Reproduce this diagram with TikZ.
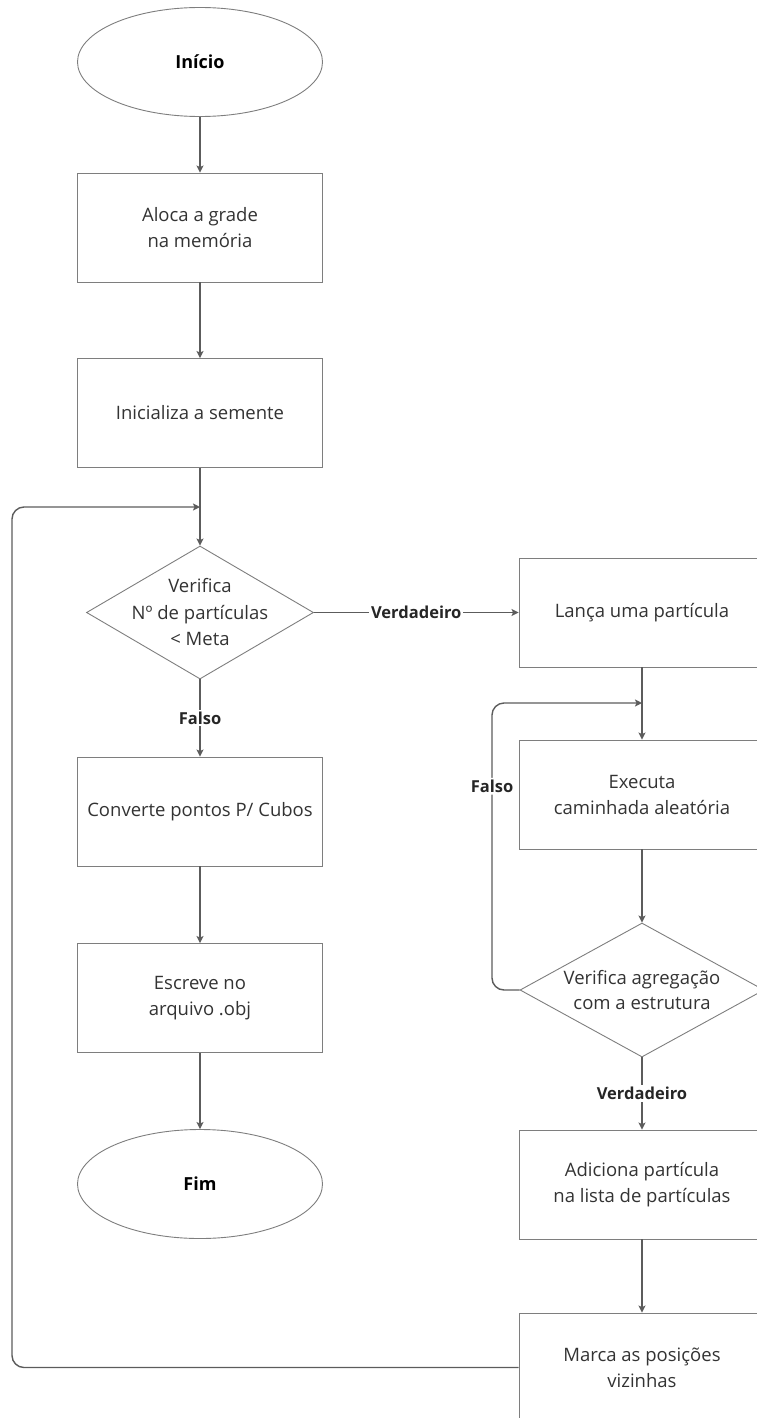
\documentclass[tikz,border=0pt]{standalone}
\usepackage{fontspec}
\setmainfont{Open Sans}
\usetikzlibrary{shapes.geometric,arrows.meta}
\definecolor{linec}{HTML}{5C5C5C}
\definecolor{shapec}{HTML}{7E7E7E}
\definecolor{txtc}{HTML}{333333}
\tikzset{
  procbox/.style={draw=shapec, line width=0.9pt, rectangle, minimum width=245pt, minimum height=109pt, inner sep=0pt, align=center, font=\fontsize{18.5}{26}\selectfont, text=txtc},
  termbox/.style={draw=shapec, line width=0.9pt, ellipse, minimum width=245pt, minimum height=109pt, inner sep=0pt, align=center, font=\fontsize{18}{26}\selectfont\bfseries, text=black},
  decbox/.style={draw=shapec, line width=0.9pt, diamond, inner sep=0pt},
  dectxt/.style={align=center, font=\fontsize{18.5}{26.5}\selectfont, text=txtc, inner sep=0pt},
  conn/.style={draw=linec, line width=1.4pt, -{Stealth[length=7pt,width=7pt,inset=1.5pt]}},
  lbl/.style={fill=white, font=\fontsize{16.5}{18}\selectfont\bfseries, text=black!85, inner sep=2pt},
}
\begin{document}
\begin{tikzpicture}[x=1pt,y=-1pt]
\useasboundingbox (0,0) rectangle (757,1418);
\clip (0,0) rectangle (757,1418);
% left column
\node[termbox] (inicio) at (200,62) {Início};
\node[procbox] (aloca) at (200,227.5) {Aloca a grade\\na memória};
\node[procbox] (inic) at (200,413) {Inicializa a semente};
\node[decbox, minimum width=227pt, minimum height=133pt] (d1) at (200,612.5) {};
\node[dectxt] (d1t) at (d1.center) {Verifica\\Nº de partículas\\< Meta};
\node[procbox] (conv) at (200,811.5) {Converte pontos P/ Cubos};
\node[procbox] (escr) at (200,998) {Escreve no\\arquivo .obj};
\node[termbox] (fim) at (200,1184) {Fim};
% right column
\node[procbox, minimum width=246pt] (lanca) at (642,612.5) {Lança uma partícula};
\node[procbox, minimum width=246pt] (exec) at (642,794.5) {Executa\\caminhada aleatória};
\node[decbox, minimum width=244pt, minimum height=134pt] (d2) at (642,990) {};
\node[dectxt, font=\fontsize{18.5}{25}\selectfont] (d2t) at (d2.center) {Verifica agregação\\com a estrutura};
\node[procbox, minimum width=246pt] (adic) at (642,1184.5) {Adiciona partícula\\na lista de partículas};
\node[procbox, minimum width=246pt] (marca) at (642,1367.5) {Marca as posições\\vizinhas};
% junction coordinates
\coordinate (j1) at (200,507);
\coordinate (j2) at (642,703);
% connectors
\draw[conn] (inicio.south) -- (aloca.north);
\draw[conn] (aloca.south) -- (inic.north);
\draw[conn] (inic.south) -- (d1.north);
\draw[conn] (d1.east) -- node[lbl] {Verdadeiro} (lanca.west);
\draw[conn] (d1.south) -- node[lbl] {Falso} (conv.north);
\draw[conn] (conv.south) -- (escr.north);
\draw[conn] (escr.south) -- (fim.north);
\draw[conn] (lanca.south) -- (exec.north);
\draw[conn] (exec.south) -- (d2.north);
\draw[conn] (d2.south) -- node[lbl] {Verdadeiro} (adic.north);
\draw[conn] (adic.south) -- (marca.north);
\draw[conn, rounded corners=12pt] (d2.west) -- (492,990) -- node[lbl, pos=0.71] {Falso} (492,703) -- (j2);
\draw[conn, rounded corners=12pt] (marca.west) -- (12,1367.5) -- (12,507) -- (j1);
\end{tikzpicture}
\end{document}
